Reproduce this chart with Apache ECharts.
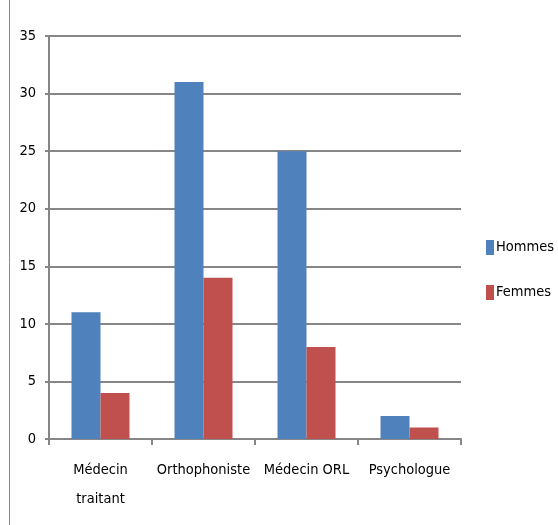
<!DOCTYPE html>
<html><head><meta charset="utf-8">
<script src="https://cdn.jsdelivr.net/npm/echarts@6/dist/echarts.min.js"></script>
<style>html,body{margin:0;padding:0;background:#fff}#c{width:558px;height:525px}</style>
</head><body><div id="c"></div>
<script>
var categories = ['Médecin\ntraitant', 'Orthophoniste', 'Médecin ORL', 'Psychologue'];
var hommes = [11, 31, 25, 2];
var femmes = [4, 14, 8, 1];
var yTicks = [0, 5, 10, 15, 20, 25, 30, 35];
var font = '"DejaVu Sans Condensed", sans-serif';
var chart = echarts.init(document.getElementById('c'));
chart.setOption({
  animation: false,
  graphic: [{type: 'line', shape: {x1: 9.5, y1: 0, x2: 9.5, y2: 525}, style: {stroke: '#888', lineWidth: 1}}],
  grid: {left: 49, top: 36, width: 412, height: 403},
  legend: {
    orient: 'vertical', left: 481, top: 235, itemWidth: 8, itemHeight: 15, itemGap: 30,
    icon: 'rect', textStyle: {fontFamily: font, fontSize: 14.5, color: '#000', padding: [0, 0, 0, -3]},
    data: ['Hommes', 'Femmes']
  },
  xAxis: {
    type: 'category', data: categories,
    axisLine: {lineStyle: {color: '#868686', width: 2}},
    axisTick: {show: true, length: 6, lineStyle: {color: '#868686', width: 2}},
    axisLabel: {interval: 0, fontFamily: font, fontSize: 14.5, color: '#000', margin: 17, lineHeight: 29}
  },
  yAxis: {
    type: 'value', min: yTicks[0], max: yTicks[yTicks.length - 1], interval: 5,
    axisLine: {show: true, lineStyle: {color: '#868686', width: 2}},
    axisTick: {show: true, length: 4, lineStyle: {color: '#868686', width: 2}},
    splitLine: {lineStyle: {color: '#868686', width: 2}},
    axisLabel: {fontFamily: font, fontSize: 14.5, color: '#000', margin: 13}
  },
  series: [
    {name: 'Hommes', type: 'bar', data: hommes, barWidth: 29, barGap: '0%',
     itemStyle: {color: '#4f81bd'}},
    {name: 'Femmes', type: 'bar', data: femmes, barWidth: 29,
     itemStyle: {color: '#c0504d'}}
  ]
});
</script></body></html>
